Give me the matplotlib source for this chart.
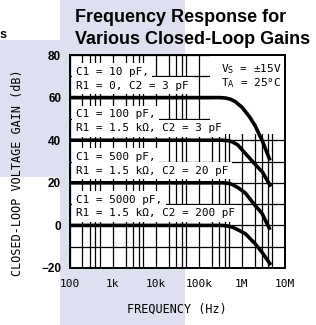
import matplotlib
matplotlib.use("Agg")
import matplotlib.pyplot as plt
import numpy as np
from matplotlib.patches import Rectangle
from matplotlib.ticker import FixedLocator, NullFormatter

# curves (Hz, dB)
f_60 = [100, 300e3, 420e3, 550e3, 700e3, 1e6, 1.5e6, 2e6, 3e6, 4.5e6]
g_60 = [60, 60, 59.8, 59.2, 58.1, 55.5, 51, 47, 39.5, 30.5]
f_40 = [100, 350e3, 475e3, 600e3, 800e3, 1.2e6, 2e6, 3e6, 4.7e6]
g_40 = [40, 40, 39.8, 39.2, 37.8, 33.8, 28.8, 25, 18.2]
f_20 = [100, 380e3, 475e3, 600e3, 800e3, 1.2e6, 2e6, 2.9e6, 4.5e6]
g_20 = [20, 20, 19.8, 19.2, 17.8, 15.2, 9.5, 5.8, -2.1]
f_0 = [100, 350e3, 450e3, 600e3, 800e3, 1.2e6, 2e6, 2.9e6, 4.7e6]
g_0 = [0, 0, -0.2, -0.8, -2, -3.9, -8.5, -12.5, -18.6]

labels = [
    ("C1 = 10 pF,", "R1 = 0, C2 = 3 pF", 80),
    ("C1 = 100 pF,", "R1 = 1.5 k\u03a9, C2 = 3 pF", 60),
    ("C1 = 500 pF,", "R1 = 1.5 k\u03a9, C2 = 20 pF", 40),
    ("C1 = 5000 pF,", "R1 = 1.5 k\u03a9, C2 = 200 pF", 20),
]
xticks = [1e2, 1e3, 1e4, 1e5, 1e6, 1e7]
xticklabels = ["100", "1k", "10k", "100k", "1M", "10M"]
yticks = [-20, 0, 20, 40, 60, 80]

mono = "DejaVu Sans Mono"
band = "#dde0ee"

fig = plt.figure(figsize=(3.16, 3.25), dpi=100)
fig.patch.set_facecolor("white")
W, H = 316.0, 325.0
fig.patches.append(Rectangle((60 / W, 0), 125 / W, 1, transform=fig.transFigure,
                             facecolor=band, edgecolor="none", zorder=-5))
fig.patches.append(Rectangle((0, 1 - 177 / H), 60 / W, 137 / H, transform=fig.transFigure,
                             facecolor=band, edgecolor="none", zorder=-5))
fig.text(0.0, 1 - 35 / H, "s", fontsize=9, fontweight="bold", family="Liberation Sans",
         va="center", ha="left")

ax = fig.add_axes([69.5 / W, 1 - 268 / H, 215.5 / W, 213 / H])
ax.set_facecolor("white")
ax.set_xscale("log")
ax.set_xlim(1e2, 1e7)
ax.set_ylim(-20, 80)

minors = [m * 10.0 ** d for d in range(2, 7) for m in (2, 3, 4, 5)]
ax.xaxis.set_major_locator(FixedLocator(xticks))
ax.xaxis.set_minor_locator(FixedLocator(minors))
ax.xaxis.set_minor_formatter(NullFormatter())
ax.set_xticklabels(xticklabels, family=mono, fontsize=8)
ax.set_yticks(yticks)
ax.set_yticks(np.arange(-10, 80, 20), minor=True)
ax.set_yticklabels([str(v).replace("-", "\u2212") for v in yticks],
                   family="Liberation Sans", fontweight="bold", fontsize=8.5)
ax.tick_params(which="both", length=0, pad=6)
ax.tick_params(axis="x", pad=8)
ax.grid(True, which="both", color="black", linewidth=0.9)
for s in ax.spines.values():
    s.set_linewidth(1.4)

for f, g in [(f_60, g_60), (f_40, g_40), (f_20, g_20), (f_0, g_0)]:
    ax.plot(f, g, color="black", linewidth=2.6, solid_capstyle="butt",
            solid_joinstyle="round", zorder=4)

box = dict(facecolor="white", edgecolor="none", pad=2.6)
for l1, l2, top in labels:
    ax.text(140, top - 7.9, l1, family=mono, fontsize=7.9, va="center", ha="left",
            bbox=box, zorder=3)
    ax.text(140, top - 14.4, l2, family=mono, fontsize=7.9, va="center", ha="left",
            bbox=box, zorder=3)

ax.add_patch(Rectangle((0.65, 0.63), 0.345, 0.365, transform=ax.transAxes,
                       facecolor="white", edgecolor="none", zorder=2.5))
ax.text(0.985, 0.935, "V$_\\mathsf{S}$ = \u00b115V", transform=ax.transAxes, family=mono,
        fontsize=8, ha="right", va="center", zorder=3)
ax.text(0.985, 0.87, "T$_\\mathsf{A}$ = 25\u00b0C", transform=ax.transAxes, family=mono,
        fontsize=8, ha="right", va="center", zorder=3)

ax.set_xlabel("FREQUENCY (Hz)", family=mono, fontsize=8.5, labelpad=10)
fig.text(18 / W, 1 - 173 / H, "CLOSED-LOOP VOLTAGE GAIN (dB)", family=mono, fontsize=8.5,
         rotation=90, ha="center", va="center")

fig.text(75 / W, 1 - 17 / H, "Frequency Response for", family="Liberation Sans",
         fontweight="bold", fontsize=13, ha="left", va="center")
fig.text(75 / W, 1 - 40 / H, "Various Closed-Loop Gains", family="Liberation Sans",
         fontweight="bold", fontsize=13, ha="left", va="center")

fig.savefig("out.png", dpi=100)
